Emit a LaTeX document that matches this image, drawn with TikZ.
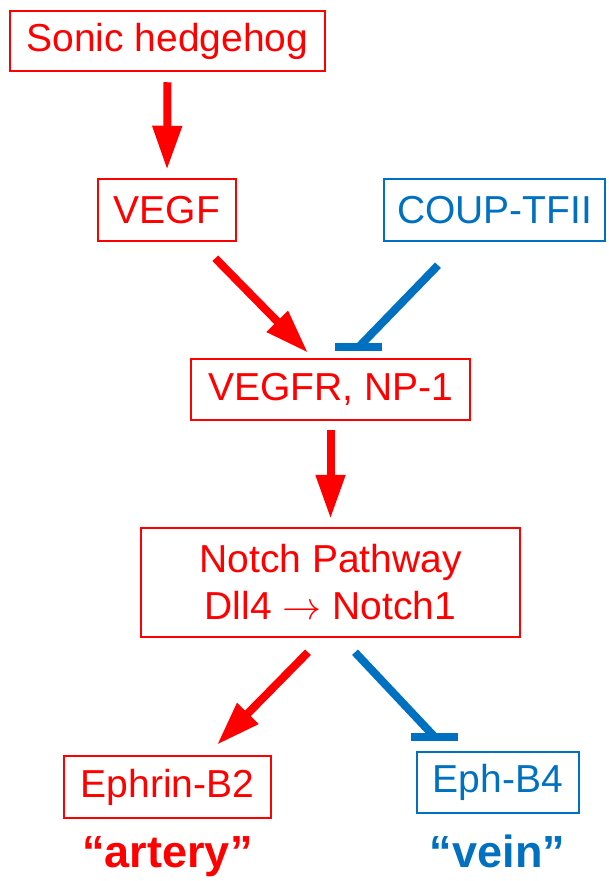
\RequirePackage{fix-cm}
\documentclass[tikz,border=0pt]{standalone}
\usepackage{fontspec}
\setmainfont{Liberation Sans}
\usetikzlibrary{arrows.meta}
\definecolor{artred}{RGB}{255,0,0}
\definecolor{veinblue}{RGB}{0,112,192}

\begin{document}
\begin{tikzpicture}[x=1pt,y=-1pt,
    box/.style={draw,line width=2.5pt,inner sep=0pt,align=center,
      font=\fontsize{39}{47}\selectfont},
    act/.style={artred,line width=8pt,-{Triangle[width=28pt,length=44pt]}},
    inh/.style={veinblue,line width=8pt},
    tag/.style={anchor=base,font=\fontsize{45}{50}\selectfont\bfseries}]
  \useasboundingbox (0,0) rectangle (609,881);

  % boxes
  \node[box,artred,minimum width=315pt,minimum height=60pt]   (shh)   at (167.5,41)  {Sonic hedgehog};
  \node[box,artred,minimum width=138pt,minimum height=62pt]   (vegf)  at (167,210)   {VEGF};
  \node[box,veinblue,minimum width=221pt,minimum height=62pt] (coup)  at (494.5,210) {COUP-TFII};
  \node[box,artred,minimum width=279pt,minimum height=61pt]   (vegfr) at (330.5,389.5) {VEGFR, NP-1};
  \node[box,artred,minimum width=379pt,minimum height=109pt]  (notch) at (330.5,582.5)
    {Notch Pathway\\Dll4 $\rightarrow$ Notch1};
  \node[box,artred,minimum width=207pt,minimum height=62pt]   (efnb2) at (167.5,787) {Ephrin-B2};
  \node[box,veinblue,minimum width=162pt,minimum height=61pt] (ephb4) at (498,782.5) {Eph-B4};

  \node[tag,artred]   (artery) at (167.5,867) {“artery”};
  \node[tag,veinblue] (vein)   at (497.5,867) {“vein”};

  % activation
  \draw[act] ([yshift=-10pt]shh.south) -- ([yshift=8pt]vegf.north);
  \draw[act] ([xshift=-22pt,yshift=-16pt]vegf.south east) -- ([xshift=-22.5pt,yshift=5pt]vegfr.north);
  \draw[act] ([yshift=-9pt]vegfr.south) -- ([yshift=8pt]notch.north);
  \draw[act] ([xshift=-22.5pt,yshift=-14pt]notch.south) -- ([xshift=49.5pt,yshift=10pt]efnb2.north);

  % inhibition
  \coordinate (bar1) at ([xshift=28pt,yshift=10.5pt]vegfr.north);
  \coordinate (bar2) at ([xshift=-63.5pt,yshift=14pt]ephb4.north);
  \draw[inh] ([xshift=-56.5pt,yshift=-23pt]coup.south) -- (bar1);
  \draw[inh] ([xshift=-23.5pt]bar1) -- ([xshift=23.5pt]bar1);
  \draw[inh] ([xshift=24.5pt,yshift=-14pt]notch.south) -- (bar2);
  \draw[inh] ([xshift=-23.5pt]bar2) -- ([xshift=23.5pt]bar2);
\end{tikzpicture}
\end{document}
